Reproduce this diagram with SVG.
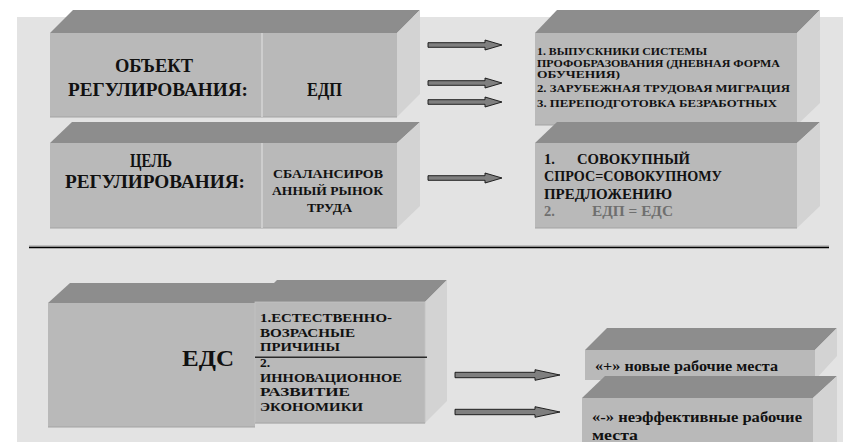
<svg xmlns="http://www.w3.org/2000/svg" width="843" height="442" viewBox="0 0 843 442">
<style>
.bg{fill:#e3e3e3}
.front{fill:#b9b9b9}
.edge{stroke:#a4a4a4;stroke-width:1.2;fill:none}
.top{fill:#8d8d8d}
.side{fill:#d3d3d3}
.div{stroke:#d6d6d6;stroke-width:1.5}
.t{font-family:"Liberation Serif","Times New Roman",serif;font-weight:bold;fill:#111}
.big{font-size:18.5px}
.mid{font-size:14.5px}
.sm{font-size:11px}
.bx{font-size:13.5px}
.g{fill:#6f6f6f}
.arr{fill:#7f7f7f;stroke:#111;stroke-width:0.9}
</style>
<rect x="0" y="0" width="843" height="442" fill="#ffffff"/>
<rect class="bg" x="17" y="17" width="826" height="425"/>

<g id="object">
<polygon class="top" points="50,33 73,10 420,10 397,33"/>
<polygon class="side" points="397,33 420,10 420,94 397,117"/>
<rect class="front" x="50" y="33" width="347" height="84"/>
<path class="edge" d="M50,117 H397"/>
<line class="div" x1="262" y1="33" x2="262" y2="117"/>
<text class="t big" x="115" y="72" textLength="78" lengthAdjust="spacingAndGlyphs">ОБЪЕКТ</text>
<text class="t big" x="68" y="96" textLength="180" lengthAdjust="spacingAndGlyphs">РЕГУЛИРОВАНИЯ:</text>
<text class="t big" x="307" y="96" textLength="35" lengthAdjust="spacingAndGlyphs">ЕДП</text>
</g>

<g id="goal">
<polygon class="top" points="50,143 72,122 420,122 397,143"/>
<polygon class="side" points="397,143 420,122 420,206 397,228"/>
<rect class="front" x="50" y="143" width="347" height="85"/>
<path class="edge" d="M50,228 H397"/>
<line class="div" x1="262" y1="143" x2="262" y2="228"/>
<text class="t big" x="130" y="167" textLength="42" lengthAdjust="spacingAndGlyphs">ЦЕЛЬ</text>
<text class="t big" x="65" y="188" textLength="180" lengthAdjust="spacingAndGlyphs">РЕГУЛИРОВАНИЯ:</text>
<text class="t" style="font-size:13.5px" x="273" y="178" textLength="110" lengthAdjust="spacingAndGlyphs">СБАЛАНСИРОВ</text>
<text class="t" style="font-size:13.5px" x="272" y="195" textLength="111" lengthAdjust="spacingAndGlyphs">АННЫЙ РЫНОК</text>
<text class="t" style="font-size:13.5px" x="307" y="212" textLength="45" lengthAdjust="spacingAndGlyphs">ТРУДА</text>
</g>

<g id="sources">
<polygon class="top" points="535,33 557,10 820,10 797,33"/>
<polygon class="side" points="797,33 820,10 820,103 797,125"/>
<rect class="front" x="535" y="33" width="262" height="92"/>
<path class="edge" d="M535,125 H797"/>
<text class="t sm" x="537" y="55" textLength="170" lengthAdjust="spacingAndGlyphs">1. ВЫПУСКНИКИ СИСТЕМЫ</text>
<text class="t sm" x="537" y="66.5" textLength="243" lengthAdjust="spacingAndGlyphs">ПРОФОБРАЗОВАНИЯ (ДНЕВНАЯ ФОРМА</text>
<text class="t sm" x="537" y="78" textLength="83" lengthAdjust="spacingAndGlyphs">ОБУЧЕНИЯ)</text>
<text class="t sm" x="537" y="92" textLength="253" lengthAdjust="spacingAndGlyphs">2. ЗАРУБЕЖНАЯ ТРУДОВАЯ МИГРАЦИЯ</text>
<text class="t sm" x="537" y="106.5" textLength="240" lengthAdjust="spacingAndGlyphs">3. ПЕРЕПОДГОТОВКА БЕЗРАБОТНЫХ</text>
</g>

<g id="balance">
<polygon class="top" points="535,143 557,122 820,122 797,143"/>
<polygon class="side" points="797,143 820,122 820,206 797,228"/>
<rect class="front" x="535" y="143" width="262" height="85"/>
<path class="edge" d="M535,228 H797"/>
<text class="t mid" x="544" y="163.5">1.</text>
<text class="t mid" x="577" y="163.5" textLength="113" lengthAdjust="spacingAndGlyphs">СОВОКУПНЫЙ</text>
<text class="t mid" x="544" y="181" textLength="178" lengthAdjust="spacingAndGlyphs">СПРОС=СОВОКУПНОМУ</text>
<text class="t mid" x="544" y="198.5" textLength="128" lengthAdjust="spacingAndGlyphs">ПРЕДЛОЖЕНИЮ</text>
<text class="t mid g" x="544" y="215.5">2.</text>
<text class="t mid g" x="592" y="215.5" textLength="81" lengthAdjust="spacingAndGlyphs">ЕДП = ЕДС</text>
</g>

<line x1="29" y1="246" x2="829" y2="246" stroke="#9a9a9a" stroke-width="1"/>
<line x1="29" y1="247.5" x2="829" y2="247.5" stroke="#000" stroke-width="1.5"/>

<g id="eds">
<polygon class="top" points="48,303 70,283 277,283 255,303"/>
<rect class="front" x="48" y="303" width="207" height="124"/>
<path class="edge" d="M48,427 H255"/>
<polygon class="top" points="255,302 277,280 447,280 425,302"/>
<polygon class="side" points="425,302 447,280 447,401 425,423"/>
<rect class="front" x="255" y="302" width="170" height="121" stroke="#c4c4c4" stroke-width="0.8"/>
<path class="edge" d="M255,423 H425"/>
<line x1="255" y1="357.3" x2="427" y2="357.3" stroke="#2a2a2a" stroke-width="1.5"/>
<text class="t" style="font-size:23px" x="182" y="366" textLength="52" lengthAdjust="spacingAndGlyphs">ЕДС</text>
<text class="t bx" x="260" y="322" textLength="132" lengthAdjust="spacingAndGlyphs">1.ЕСТЕСТВЕННО-</text>
<text class="t bx" x="260" y="337" textLength="95" lengthAdjust="spacingAndGlyphs">ВОЗРАСНЫЕ</text>
<text class="t bx" x="260" y="351" textLength="80" lengthAdjust="spacingAndGlyphs">ПРИЧИНЫ</text>
<text class="t bx" x="260" y="367">2.</text>
<text class="t bx" x="260" y="382" textLength="142" lengthAdjust="spacingAndGlyphs">ИННОВАЦИОННОЕ</text>
<text class="t bx" x="260" y="396" textLength="90" lengthAdjust="spacingAndGlyphs">РАЗВИТИЕ</text>
<text class="t bx" x="260" y="411" textLength="103" lengthAdjust="spacingAndGlyphs">ЭКОНОМИКИ</text>
</g>

<g id="new-jobs">
<polygon class="top" points="585,350 607,328 837,328 815,350"/>
<polygon class="side" points="815,350 837,328 837,356 815,380"/>
<rect class="front" x="585" y="350" width="230" height="30"/>
<text class="t" style="font-size:14.5px" x="595" y="371" textLength="183" lengthAdjust="spacingAndGlyphs">«+» новые рабочие места</text>
</g>

<g id="ineffective-jobs">
<polygon class="top" points="582,398 605,376 837,376 813,398"/>
<polygon class="side" points="813,398 837,376 837,442 813,442"/>
<rect class="front" x="582" y="398" width="231" height="44"/>
<text class="t" style="font-size:14.5px" x="592" y="422" textLength="210" lengthAdjust="spacingAndGlyphs">«-» неэффективные  рабочие</text>
<text class="t" style="font-size:14.5px" x="592" y="440" textLength="46" lengthAdjust="spacingAndGlyphs">места</text>
</g>

<g id="connectors">
<path class="arr" d="M428,42.7 H485 V40 L502,45 L485,50 V47.3 H428 Z"/>
<path class="arr" d="M428,80.7 H485 V78 L502,83 L485,88 V85.3 H428 Z"/>
<path class="arr" d="M428,99.7 H485 V97 L502,102 L485,107 V104.3 H428 Z"/>
<path class="arr" d="M428,175.7 H485 V173 L502,178 L485,183 V180.3 H428 Z"/>
<path class="arr" d="M455,372.3 H535 V369.7 L560,375 L535,380.3 V377.7 H455 Z"/>
<path class="arr" d="M455,409.3 H535 V406.7 L560,412 L535,417.3 V414.7 H455 Z"/>
</g>
</svg>
